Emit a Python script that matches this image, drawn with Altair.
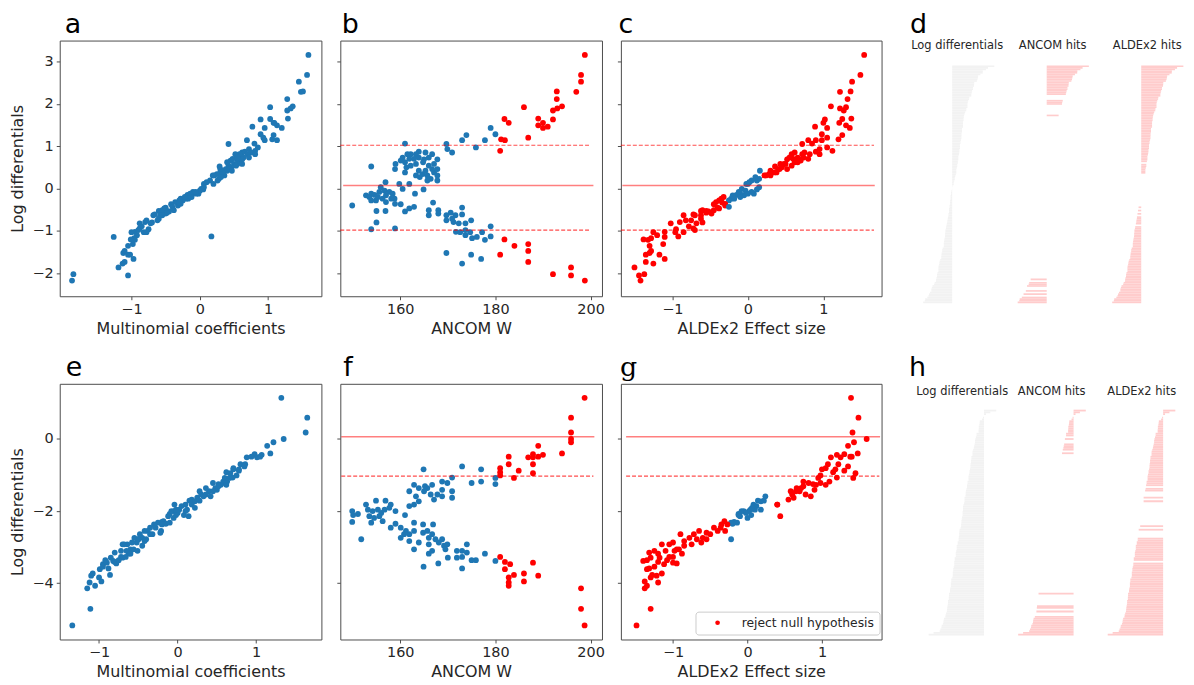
import altair as alt
import pandas as pd

# ---------------- Top row (panels a-d) ----------------
top_logdiff = [
    3.15, 2.68, 2.52, 2.28, 2.29, 2.11, 1.94, 1.89, 1.84, 1.63,
    1.92, 1.65, 1.55, 1.49, 1.43, 1.46, 1.64, 1.55, 1.20, 1.16,
    1.14, 0.89, 1.43, 1.28, 1.14, 1.26, 1.14, 0.97, 1.05, 0.93,
    0.85, 1.06, 0.69, 0.81, 0.85, 0.87, 0.81, 0.81, 0.81, 0.73,
    0.66, 0.58, 0.46, 0.62, 0.70, 0.70, 0.73, 0.69, 0.73, 0.50,
    0.38, 0.54, 0.58, 0.42, 0.34, 0.31, 0.23, 0.38, 0.31, 0.19,
    0.46, 0.42, 0.31, 0.54, 0.62, 0.58, 0.46, 0.27, 0.19, 0.52,
    0.11, 0.11, -0.01, -0.12, -0.02, 0.15, -0.40, -0.16, -0.12, -0.15,
    -0.08, 0.03, -0.05, -0.16, -0.08, -0.12, -0.24, -0.24, -0.24, -0.28,
    -0.28, -0.20, -0.20, -0.32, -0.36, -0.37, -0.54, -0.47, -0.43, -0.53,
    -0.53, -0.80, -0.96, -0.94, -0.33, -0.51, -0.63, -0.51, -0.59, -0.63,
    -0.75, -0.57, -0.63, -0.45, -0.61, -0.79, -0.82, -0.82, -0.75, -1.02,
    -1.03, -1.10, -1.03, -1.17, -1.14, -1.03, -1.21, -0.89, -1.13, -1.52,
    -1.77, -1.56, -1.66, -0.98, -0.71, -1.20, -1.35, -1.31, -1.47, -1.56,
    -1.73, -2.02, -1.86, -2.05, -2.17,
]
top_ancom_w = [
    198.8, 198.0, 198.0, 197.0, 192.9, 192.9, 194.0, 193.0, 192.1, 192.1,
    186.0, 189.0, 190.0, 189.0, 190.0, 191.0, 181.9, 182.8, 186.9, 181.2,
    182.0, 181.0, 179.0, 180.0, 177.8, 173.9, 173.0, 175.9, 169.7, 169.9,
    170.9, 161.0, 167.8, 166.7, 165.3, 163.9, 163.3, 162.2, 161.5, 160.5,
    160.1, 159.0, 158.9, 161.0, 161.9, 162.9, 163.9, 165.0, 166.0, 161.3,
    161.0, 162.2, 163.3, 163.9, 164.7, 165.7, 166.4, 167.1, 167.8, 167.8,
    166.7, 165.3, 163.3, 166.0, 164.8, 167.1, 167.8, 164.1, 165.7, 153.9,
    159.8, 161.9, 160.5, 163.1, 164.9, 156.9, 149.9, 152.8, 153.9, 154.6,
    155.6, 155.9, 156.7, 157.0, 157.7, 158.4, 158.8, 158.1, 156.3, 154.9,
    153.9, 153.5, 155.3, 157.0, 158.9, 160.1, 161.0, 161.9, 162.9, 155.0,
    156.9, 155.0, 153.9, 158.9, 166.9, 166.0, 166.0, 168.0, 168.0, 169.7,
    169.7, 170.6, 171.6, 173.0, 173.0, 171.2, 172.3, 173.7, 174.9, 171.7,
    172.6, 173.7, 174.7, 175.1, 176.1, 177.2, 177.8, 179.0, 179.0, 169.7,
    173.0, 174.9, 177.0, 173.7, 170.9, 181.9, 184.0, 186.9, 186.9, 181.0,
    186.9, 192.1, 195.9, 195.9, 198.8,
]
top_multinomial = [
    1.59, 1.57, 1.45, 1.48, 1.51, 1.28, 1.36, 1.33, 1.28, 0.89,
    1.03, 1.29, 1.08, 1.13, 1.20, 0.77, 1.03, 1.09, 0.93, 1.06,
    1.13, 0.81, 0.95, 0.89, 0.69, 1.08, 0.95, 0.85, 0.42, 0.72,
    0.62, 0.80, 0.55, 0.58, 0.75, 0.66, 0.81, 0.52, 0.70, 0.64,
    0.45, 0.50, 0.38, 0.56, 0.60, 0.48, 0.72, 0.62, 0.55, 0.46,
    0.30, 0.42, 0.55, 0.40, 0.25, 0.36, 0.28, 0.33, 0.21, 0.26,
    0.44, 0.47, 0.19, 0.53, 0.40, 0.62, 0.30, 0.31, 0.15, 0.29,
    0.20, 0.06, 0.02, -0.05, 0.05, 0.10, -0.32, -0.12, -0.02, -0.18,
    -0.10, 0.06, 0.00, -0.15, -0.06, -0.14, -0.20, -0.28, -0.17, -0.25,
    -0.30, -0.22, -0.12, -0.36, -0.28, -0.42, -0.45, -0.52, -0.40, -0.60,
    -0.48, -0.70, -0.75, -0.88, -0.30, -0.55, -0.58, -0.38, -0.50, -0.68,
    -0.62, -0.48, -0.55, -0.50, -0.66, -0.80, -0.72, -0.88, -0.78, -0.95,
    -0.82, -0.92, -1.00, -0.96, -1.26, -0.78, -0.95, -0.85, 0.17, -1.12,
    -1.13, -1.05, -0.97, -0.90, -0.60, -1.01, -1.05, -0.98, -1.10, -1.02,
    -1.10, -1.85, -1.19, -1.05, -1.87,
]
top_aldex_effect = [
    1.54, 1.49, 1.38, 1.22, 1.36, 1.32, 1.10, 1.22, 1.27, 1.02,
    1.30, 1.37, 1.21, 1.30, 1.35, 0.89, 1.25, 1.00, 1.05, 1.20,
    0.98, 1.12, 1.05, 0.98, 0.80, 1.25, 0.90, 1.05, 0.72, 0.95,
    0.75, 0.85, 0.68, 0.82, 0.62, 0.90, 0.72, 0.58, 0.95, 0.55,
    0.70, 0.48, 0.40, 0.62, 0.80, 0.60, 0.66, 0.52, 0.74, 0.45,
    0.35, 0.58, 0.43, 0.30, 0.28, 0.24, 0.15, 0.38, 0.30, 0.12,
    0.52, 0.16, 0.22, 0.45, 0.66, 0.50, 0.42, 0.10, 0.05, 0.36,
    0.00, -0.02, -0.08, 0.08, 0.12, 0.02, -0.30, -0.05, -0.10, -0.15,
    0.05, 0.15, -0.03, -0.20, -0.12, 0.00, -0.22, -0.35, -0.18, -0.38,
    -0.25, -0.10, -0.32, -0.42, -0.30, -0.45, -0.52, -0.38, -0.25, -0.62,
    -0.55, -0.60, -0.95, -0.72, -0.34, -0.45, -0.70, -0.60, -0.48, -0.85,
    -0.75, -0.55, -0.62, -0.40, -0.72, -0.90, -0.68, -1.02, -0.82, -1.10,
    -0.85, -1.20, -0.96, -1.28, -1.10, -1.25, -1.32, -0.78, -0.92, -1.30,
    -1.25, -1.17, -1.10, -0.70, -0.62, -1.38, -1.30, -1.12, -1.28, -1.35,
    -1.35, -1.37, -1.50, -1.44, -1.42,
]
top_aldex_reject = [
    1, 1, 1, 1, 1, 1, 1, 1, 1, 1,
    1, 1, 1, 1, 1, 1, 1, 1, 1, 1,
    1, 1, 1, 1, 1, 1, 1, 1, 1, 1,
    1, 1, 1, 1, 1, 1, 1, 1, 1, 1,
    1, 1, 1, 1, 1, 1, 1, 1, 1, 1,
    1, 1, 1, 1, 1, 1, 0, 1, 1, 0,
    1, 0, 1, 1, 1, 1, 1, 0, 0, 1,
    0, 0, 0, 0, 0, 0, 1, 0, 0, 0,
    0, 0, 0, 0, 0, 0, 0, 1, 0, 1,
    0, 0, 1, 1, 1, 1, 1, 1, 0, 1,
    1, 1, 1, 1, 1, 1, 1, 1, 1, 1,
    1, 1, 1, 1, 1, 1, 1, 1, 1, 1,
    1, 1, 1, 1, 1, 1, 1, 1, 1, 1,
    1, 1, 1, 1, 1, 1, 1, 1, 1, 1,
    1, 1, 1, 1, 1,
]

# ---------------- Bottom row (panels e-h) ----------------
bot_logdiff = [
    1.14, 0.59, 0.18, 0.00, -0.09, -0.40, -0.19, -0.44, -0.42, -0.51,
    -0.51, -0.49, -0.70, -0.95, -0.49, -0.70, -0.81, -0.92, -1.01, -0.88,
    -1.08, -3.27, -3.41, -3.47, -3.61, -3.84, -3.98, -4.07, -3.77, -3.73,
    -3.95, -3.43, -3.79, -4.14, -4.71, -5.17, -0.84, -0.76, -0.84, -1.08,
    -1.25, -1.18, -1.22, -1.07, -1.18, -1.22, -1.45, -1.63, -1.41, -1.27,
    -1.36, -1.54, -1.68, -1.54, -1.59, -1.36, -1.27, -1.45, -1.59, -1.73,
    -1.82, -1.86, -1.45, -1.31, -2.00, -2.11, -2.08, -2.30, -1.82, -1.71,
    -1.71, -1.82, -2.00, -1.96, -2.00, -1.96, -2.05, -1.96, -1.91, -2.14,
    -2.19, -2.14, -2.28, -2.32, -2.78, -2.46, -2.35, -2.11, -2.46, -2.74,
    -2.55, -2.64, -2.64, -2.32, -2.55, -2.83, -3.06, -2.87, -2.37, -2.60,
    -2.55, -2.74, -2.37, -2.64, -2.92, -2.78, -2.87, -2.78, -2.96, -2.92,
    -3.06, -3.18, -3.45, -3.54, -3.29, -3.10, -3.10, -2.92, -3.15, -3.27,
    -3.29, -3.59, -3.36, -3.36, -3.18, -3.38, -3.10,
]
bot_ancom_w = [
    198.75, 195.9, 195.9, 195.9, 195.9, 194.0, 189.0, 190.0, 187.9, 186.9,
    187.9, 189.0, 187.9, 187.9, 182.8, 182.8, 181.0, 181.0, 181.0, 184.9,
    183.9, 181.0, 182.0, 183.1, 182.0, 182.8, 182.8, 182.8, 183.9, 186.0,
    186.0, 187.9, 189.0, 198.0, 198.0, 198.75, 164.9, 173.0, 177.0, 180.0,
    180.0, 177.0, 175.0, 170.9, 168.8, 169.9, 170.9, 170.9, 168.8, 166.7,
    165.7, 166.4, 167.1, 167.8, 168.8, 163.9, 162.9, 161.9, 163.3, 163.9,
    162.9, 161.9, 165.0, 165.2, 149.9, 150.1, 151.1, 149.9, 152.8, 154.9,
    156.9, 158.0, 159.0, 153.2, 154.2, 155.3, 156.0, 156.7, 157.7, 153.5,
    154.5, 155.6, 156.3, 153.9, 151.8, 158.0, 159.0, 161.0, 160.1, 160.1,
    161.2, 161.9, 160.8, 162.9, 162.9, 161.9, 162.9, 163.9, 164.8, 164.8,
    165.7, 166.0, 166.9, 166.7, 166.0, 167.4, 168.1, 168.8, 169.2, 169.9,
    169.5, 166.0, 168.0, 164.9, 170.0, 171.9, 173.0, 174.0, 174.0, 173.0,
    171.9, 173.0, 175.0, 175.9, 177.8, 180.0, 166.7,
]
bot_multinomial = [
    1.32, 1.65, 1.63, 1.35, 1.22, 1.18, 1.14, 1.07, 0.98, 0.88,
    1.01, 0.94, 0.86, 0.67, 1.05, 0.80, 0.71, 0.62, 0.75, 0.78,
    0.60, -0.72, -0.80, -0.95, -0.99, -1.00, -1.12, -1.05, -0.86, -1.08,
    -0.97, -0.90, -1.10, -1.15, -1.11, -1.34, 0.71, 0.85, 0.78, 0.66,
    0.52, 0.63, 0.45, 0.70, 0.58, 0.60, 0.40, 0.25, 0.50, 0.55,
    0.36, 0.36, 0.18, 0.30, 0.42, 0.48, 0.62, 0.28, 0.33, 0.22,
    0.10, 0.05, 0.45, 0.52, -0.05, 0.08, -0.10, -0.20, 0.18, 0.15,
    0.28, -0.04, 0.10, 0.02, -0.08, 0.12, 0.00, -0.02, 0.22, -0.12,
    -0.05, 0.14, -0.18, -0.25, -0.50, -0.35, -0.15, -0.02, -0.28, -0.45,
    -0.21, -0.32, -0.48, -0.10, -0.38, -0.42, -0.60, -0.52, -0.30, -0.22,
    -0.42, -0.55, -0.20, -0.35, -0.64, -0.40, -0.58, -0.50, -0.45, -0.68,
    -0.56, -0.62, -0.78, -0.95, -0.70, -0.51, -0.65, -0.70, -0.80, -0.66,
    -0.85, -0.88, -0.75, -0.92, -0.60, -0.82, -0.72,
]
bot_aldex_effect = [
    1.39, 1.49, 1.41, 1.60, 1.43, 1.48, 1.35, 1.20, 1.30, 1.12,
    1.25, 1.38, 1.08, 1.45, 1.40, 1.22, 1.05, 1.15, 0.98, 1.30,
    1.42, -1.05, -1.20, -1.12, -1.35, -1.30, -1.20, -1.35, -1.28, -1.15,
    -1.38, -1.00, -1.22, -1.38, -1.30, -1.49, 1.00, 1.35, 1.18, 0.95,
    0.88, 1.10, 0.82, 1.20, 0.75, 0.98, 0.70, 0.62, 0.90, 1.05,
    0.66, 0.78, 0.55, 0.60, 0.85, 0.72, 0.92, 0.65, 0.24, 0.18,
    0.40, 0.12, 0.58, 0.75, -0.05, 0.05, -0.12, -0.18, 0.08, 0.22,
    0.14, 0.40, 0.02, 0.10, -0.08, 0.18, -0.02, 0.04, 0.06, -0.10,
    0.00, 0.44, -0.31, -0.14, -0.22, -0.36, -0.20, -0.12, -0.45, -0.60,
    -0.40, -0.72, -0.50, -0.22, -0.30, -0.85, -0.92, -0.62, -0.27, -0.55,
    -0.65, -0.78, -0.35, -0.90, -1.05, -0.68, -1.00, -0.55, -0.85, -1.15,
    -0.95, -1.20, -0.95, -1.25, -1.30, -1.10, -1.25, -0.75, -1.32, -1.00,
    -1.18, -1.32, -1.35, -1.08, -0.88, -1.40, -0.98,
]
bot_aldex_reject = [
    1, 1, 1, 1, 1, 1, 1, 1, 1, 1,
    1, 1, 1, 1, 1, 1, 1, 1, 1, 1,
    1, 1, 1, 1, 1, 1, 1, 1, 1, 1,
    1, 1, 1, 1, 1, 1, 1, 1, 1, 1,
    1, 1, 1, 1, 1, 1, 1, 1, 1, 1,
    1, 1, 1, 1, 1, 1, 1, 1, 0, 0,
    1, 0, 1, 1, 0, 0, 0, 0, 0, 0,
    0, 1, 0, 0, 0, 0, 0, 0, 0, 0,
    0, 1, 1, 0, 0, 1, 0, 0, 1, 1,
    1, 1, 1, 0, 1, 1, 1, 1, 1, 1,
    1, 1, 1, 1, 1, 1, 1, 1, 1, 1,
    1, 1, 1, 1, 1, 1, 1, 1, 1, 1,
    1, 1, 1, 1, 1, 1, 1,
]

# reference lines (y value, x start, x end)
top_ancom_lines = {"solid": [(0.07, 148.0, 200.6)], "dashed": [(1.02, 147.4, 199.7), (-0.98, 147.4, 199.7)]}
top_aldex_lines = {"solid": [(0.07, -1.66, 1.68)], "dashed": [(1.02, -1.68, 1.67), (-0.98, -1.68, 1.67)]}
bot_ancom_lines = {"solid": [(0.06, 147.6, 200.8)], "dashed": [(-1.03, 147.6, 200.6)]}
bot_aldex_lines = {"solid": [(0.06, -1.63, 1.78)], "dashed": [(-1.03, -1.63, 1.77)]}

ANCOM_W_CUTOFF = 180.5
BLUE = "#1f77b4"
RED = "#ff0000"
REJECT = "reject null hypothesis"
KEEP = "not rejected"
FONT = "DejaVu Sans"
TEXT = "#262626"
FRAME = "#4d4d4d"


def make_df(logdiff, mult, w, eff, reject):
    assert len(logdiff) == len(mult) == len(w) == len(eff) == len(reject)
    return pd.DataFrame({
        "logdiff": logdiff, "mult": mult, "w": w, "eff": eff,
        "ancom": [REJECT if v > ANCOM_W_CUTOFF else KEEP for v in w],
        "aldex": [REJECT if r else KEEP for r in reject],
    })


top = make_df(top_logdiff, top_multinomial, top_ancom_w, top_aldex_effect, top_aldex_reject)
bot = make_df(bot_logdiff, bot_multinomial, bot_ancom_w, bot_aldex_effect, bot_aldex_reject)


def letter_layer(letter, dx, font=FONT):
    return alt.Chart(pd.DataFrame({"t": [letter]})).mark_text(
        align="left", baseline="alphabetic", fontSize=27, font=font, color="black"
    ).encode(text="t:N", x=alt.value(dx), y=alt.value(-8))


def scatter(df, xfield, xtitle, xdom, xticks, ydom, yticks, show_y, letter, letter_dx,
            status=None, lines=None, legend=None, letter_font=FONT, width=263, height=257):
    xs = alt.Scale(domain=xdom, nice=False, zero=False)
    ys = alt.Scale(domain=ydom, nice=False, zero=False)
    xaxis = alt.Axis(values=xticks, format="d", title=xtitle)
    if show_y:
        yaxis = alt.Axis(values=yticks, format="d", title="Log differentials", titlePadding=7)
    else:
        yaxis = alt.Axis(values=yticks, labels=False, title=None)
    if status:
        color = alt.Color(f"{status}:N", scale=alt.Scale(domain=[KEEP, REJECT], range=[BLUE, RED]),
                          legend=legend)
    else:
        color = alt.value(BLUE)
    layers = [alt.Chart(df).mark_circle(size=34, opacity=1).encode(
        x=alt.X(f"{xfield}:Q", scale=xs, axis=xaxis),
        y=alt.Y("logdiff:Q", scale=ys, axis=yaxis),
        color=color)]
    if lines:
        for style, rows in lines.items():
            ldf = pd.DataFrame(rows, columns=["y", "x1", "x2"])
            if style == "solid":
                mk = alt.Chart(ldf).mark_rule(color=RED, opacity=0.5, strokeWidth=1.6)
            else:
                mk = alt.Chart(ldf).mark_rule(color=RED, opacity=0.7, strokeWidth=1.1, strokeDash=[4, 2])
            layers.append(mk.encode(
                x=alt.X("x1:Q", scale=xs, axis=xaxis), x2="x2:Q",
                y=alt.Y("y:Q", scale=ys, axis=yaxis)))
    layers.append(letter_layer(letter, letter_dx, letter_font))
    return alt.layer(*layers).properties(width=width, height=height)


def hits(df, status, color, label, width, height, baseline_px, px_per_unit, top_px, label_x, label_y,
         letter=None, letter_dx=0):
    n = len(df)
    pad = n * top_px / (height - top_px)
    xdom = [-baseline_px / px_per_unit, (width - baseline_px) / px_per_unit]
    base = alt.Chart(df).transform_window(
        rank="row_number()", sort=[alt.SortField("logdiff", order="descending")]
    ).transform_calculate(r0="datum.rank - 1", base0="0")
    if status:
        base = base.transform_filter(alt.datum[status] == REJECT)
    bars = base.mark_rect(color=color).encode(
        x=alt.X("base0:Q", scale=alt.Scale(domain=xdom, nice=False, zero=False), axis=None),
        x2=alt.X2("logdiff:Q"),
        y=alt.Y("r0:Q", scale=alt.Scale(domain=[-pad, n], reverse=True, nice=False, zero=False), axis=None),
        y2=alt.Y2("rank:Q"))
    txt = alt.Chart(pd.DataFrame({"t": [label]})).mark_text(
        fontSize=11.5, color=TEXT, baseline="middle", align="center"
    ).encode(text="t:N", x=alt.value(label_x), y=alt.value(label_y))
    layers = [bars, txt]
    if letter:
        layers.append(letter_layer(letter, letter_dx))
    return alt.layer(*layers).properties(width=width, height=height,
                                         view=alt.ViewBackground(stroke="transparent"))


legend_g = alt.Legend(values=[REJECT], title=None, orient="none", legendX=75, legendY=229,
                      fillColor="white", strokeColor="#cccccc", cornerRadius=3, padding=5,
                      symbolType="circle", symbolSize=22, symbolStrokeWidth=0, symbolOffset=11,
                      labelOffset=18, labelFontSize=12.4, labelColor=TEXT, labelFont=FONT)

top_y = [-2.54, 3.49]
bot_y = [-5.56, 1.53]
top_ticks = [-2, -1, 0, 1, 2, 3]
bot_ticks = [-4, -2, 0]

a = scatter(top, "mult", "Multinomial coefficients", [-2.05, 1.78], [-1, 0, 1], top_y, top_ticks, True, "a", 5)
b = scatter(top, "w", "ANCOM W", [147.4, 202.4], [160, 180, 200], top_y, top_ticks, False, "b", 1.5,
            status="ancom", lines=top_ancom_lines)
c = scatter(top, "eff", "ALDEx2 Effect size", [-1.68, 1.77], [-1, 0, 1], top_y, top_ticks, False, "c", -2.5,
            status="aldex", lines=top_aldex_lines, width=262)
D_S = 13.45
d1 = hits(top, None, "#f2f2f2", "Log differentials", 97, 264, 52, D_S, 25, 57, 5, "d", 9.5)
d2 = hits(top, "ancom", "#ffcccc", "ANCOM hits", 75, 264, 31, D_S, 25, 37, 5)
d3 = hits(top, "aldex", "#ffcccc", "ALDEx2 hits", 76, 264, 32, D_S, 25, 38, 5)

e = scatter(bot, "mult", "Multinomial coefficients", [-1.50, 1.83], [-1, 0, 1], bot_y, bot_ticks, True, "e", 6)
f = scatter(bot, "w", "ANCOM W", [147.4, 202.4], [160, 180, 200], bot_y, bot_ticks, False, "f", 3,
            status="ancom", lines=bot_ancom_lines)
g = scatter(bot, "eff", "ALDEx2 Effect size", [-1.70, 1.80], [-1, 0, 1], bot_y, bot_ticks, False, "g", -1,
            status="aldex", lines=bot_aldex_lines, legend=legend_g, letter_font="DejaVu Serif", width=262)
H_S = 10.77
h1 = hits(bot, None, "#f2f2f2", "Log differentials", 97, 253, 84, H_S, 26, 62, 8, "h", 8.5)
h2 = hits(bot, "ancom", "#ffcccc", "ANCOM hits", 75, 253, 58, H_S, 26, 36, 8)
h3 = hits(bot, "aldex", "#ffcccc", "ALDEx2 hits", 76, 253, 54, H_S, 26, 32.5, 8)

chart = alt.concat(
    a, b, c, d1, d2, d3, e, f, g, h1, h2, h3,
    columns=6, spacing={"row": 81, "column": 19}, bounds="flush",
).resolve_scale(color="independent").resolve_legend(color="independent").properties(
    padding={"left": 0, "top": 0, "right": 0, "bottom": 0}
).configure(font=FONT).configure_view(stroke=FRAME, strokeWidth=1).configure_axis(
    grid=False, domain=False, ticks=True, tickSize=3.5, tickColor=FRAME, tickWidth=1,
    labelFont=FONT, labelFontSize=14.5, labelColor=TEXT, labelPadding=3,
    titleFont=FONT, titleFontSize=16, titleFontWeight="normal", titleColor=TEXT, titlePadding=4,
).configure_text(font=FONT)

chart.save("out.html", embed_options={"renderer": "svg", "actions": False})
